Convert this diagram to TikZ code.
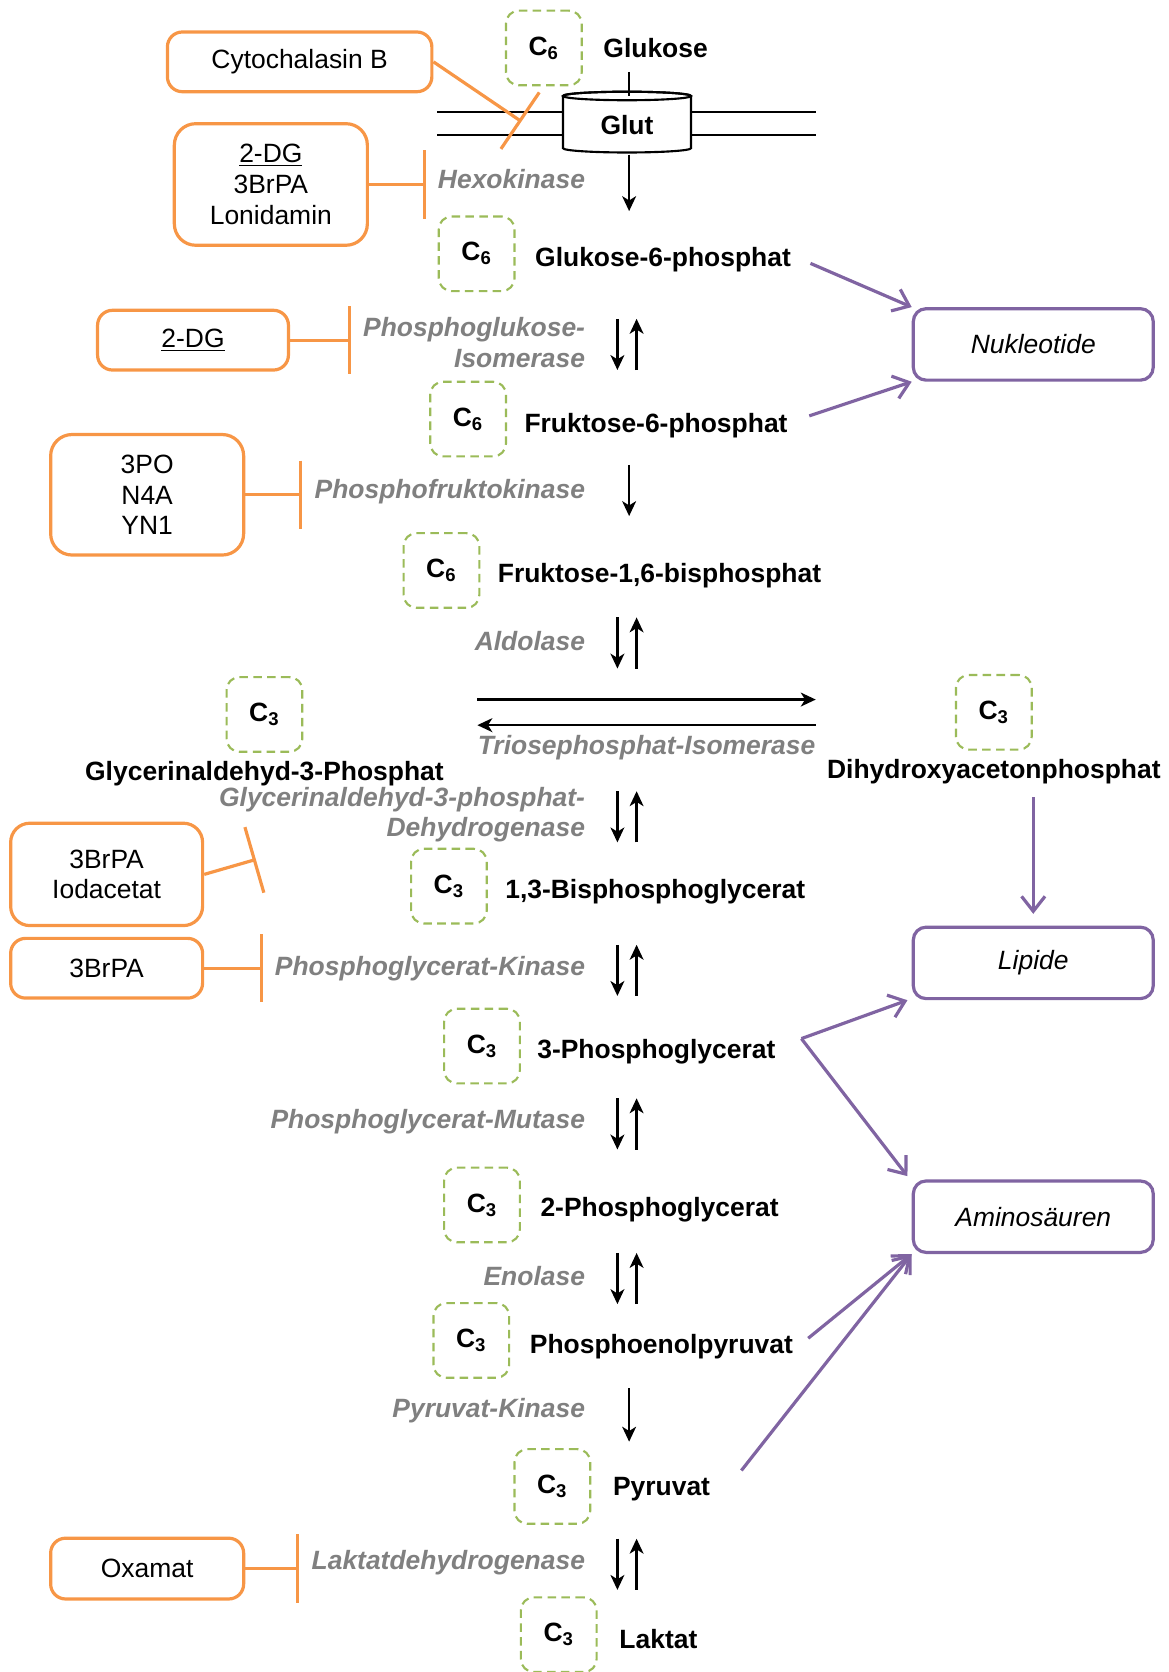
\documentclass[tikz,border=0pt]{standalone}
\usepackage{fontspec}
\setmainfont{Liberation Sans}
\usetikzlibrary{arrows.meta,positioning}
\definecolor{inhorange}{HTML}{F79646}
\definecolor{fatepurple}{HTML}{8064A2}
\definecolor{carbgreen}{HTML}{9BBB59}
\definecolor{enzgray}{HTML}{808080}

\begin{document}
\begin{tikzpicture}[x=0.5pt, y=-0.5pt,
  % text styles
  metab/.style={font=\fontsize{12.4}{14.5}\selectfont\bfseries, inner sep=0pt, text height=8.9pt, text depth=0pt},
  enzyme/.style={font=\fontsize{12.4}{14.5}\selectfont\bfseries\itshape, text=enzgray, anchor=east, align=right, inner sep=0pt},
  % boxes
  carbon/.style={draw=carbgreen, line width=1pt, dash pattern=on 4pt off 2.5pt, rounded corners=6pt, minimum width=35.5pt, minimum height=35pt, font=\fontsize{12.4}{14.5}\selectfont\bfseries},
  inhibitor/.style={draw=inhorange, line width=1.5pt, rounded corners=7pt, align=center, font=\fontsize{12.4}{14.5}\selectfont, minimum width=90.5pt, minimum height=28pt},
  fate/.style={draw=fatepurple, line width=1.5pt, rounded corners=6pt, minimum width=112.5pt, minimum height=33.5pt, font=\fontsize{12.4}{14.5}\selectfont\itshape},
  % connectors
  rxn/.style={line width=1.1pt, -{Stealth[length=7pt, width=6.5pt, inset=2pt]}},
  block/.style={draw=inhorange, line width=1.5pt, -{Bar[width=32pt]}},
  flux/.style={draw=fatepurple, line width=1.5pt, -{Straight Barb[length=7pt, width=11pt]}},
  membrane/.style={line width=1pt}
]
\useasboundingbox (0,0) rectangle (1096,1568);

% Membrane with the Glut transporter
\draw[membrane] (410,105) -- (765,105);
\draw[membrane] (410,127) -- (765,127);
\filldraw[fill=white, line width=1pt] (528,90) -- (528,139) arc[start angle=180, end angle=360, x radius=30pt, y radius=2pt] -- (648,90) arc[start angle=0, end angle=180, x radius=30pt, y radius=2pt] -- cycle;
\draw[line width=1pt] (588,90) ellipse[x radius=30pt, y radius=2pt];
\node[metab] (glut) at (588,117) {Glut};

% Carbon boxes
\node[carbon] (c1) at (510,45) {C\textsubscript{6}};
\node[carbon] (c2) at (447,238) {C\textsubscript{6}};
\node[carbon] (c3) at (439,393) {C\textsubscript{6}};
\node[carbon] (c4) at (414,535) {C\textsubscript{6}};
\node[carbon] (c5) at (248,670) {C\textsubscript{3}};
\node[carbon] (c6) at (932,668) {C\textsubscript{3}};
\node[carbon] (c7) at (421,831) {C\textsubscript{3}};
\node[carbon] (c8) at (452,981) {C\textsubscript{3}};
\node[carbon] (c9) at (452,1130) {C\textsubscript{3}};
\node[carbon] (c10) at (442,1257) {C\textsubscript{3}};
\node[carbon] (c11) at (518,1394) {C\textsubscript{3}};
\node[carbon] (c12) at (524,1533) {C\textsubscript{3}};

% Metabolites
\node[metab, right=9.5pt of c1] (glc) {Glukose};
\node[metab, right=9pt of c2, yshift=-1.5pt] (g6p) {Glukose-6-phosphat};
\node[metab, right=8pt of c3, yshift=-2pt] (f6p) {Fruktose-6-phosphat};
\node[metab, right=8pt of c4, yshift=-1pt] (f16bp) {Fruktose-1,6-bisphosphat};
\node[metab, below=4pt of c5] (g3p) {Glycerinaldehyd-3-Phosphat};
\node[metab, below=4pt of c6] (dhap) {Dihydroxyacetonphosphat};
\node[metab, right=8pt of c7, yshift=-1.5pt] (bpg) {1,3-Bisphosphoglycerat};
\node[metab, right=7.5pt of c8, yshift=-1.5pt] (pg3) {3-Phosphoglycerat};
\node[metab, right=9pt of c9, yshift=-1pt] (pg2) {2-Phosphoglycerat};
\node[metab, right=9pt of c10, yshift=-1.5pt] (pep) {Phosphoenolpyruvat};
\node[metab, right=10pt of c11] (pyr) {Pyruvat};
\node[metab, right=10pt of c12, yshift=-2pt] (lak) {Laktat};

% Enzymes
\node[enzyme] (hk) at (549,168) {Hexokinase};
\node[enzyme] (pgi) at (549,321) {Phosphoglukose-\\Isomerase};
\node[enzyme] (pfk) at (549,461) {Phosphofruktokinase};
\node[enzyme] (ald) at (549,601) {Aldolase};
\node[enzyme] (tpi) at (765,701) {Triosephosphat-Isomerase};
\node[enzyme] (gapdh) at (549,764) {Glycerinaldehyd-3-phosphat-\\Dehydrogenase};
\node[enzyme] (pgk) at (549,908) {Phosphoglycerat-Kinase};
\node[enzyme] (pgm) at (549,1052) {Phosphoglycerat-Mutase};
\node[enzyme] (eno) at (549,1197) {Enolase};
\node[enzyme] (pk) at (549,1323) {Pyruvat-Kinase};
\node[enzyme] (ldh) at (549,1465) {Laktatdehydrogenase};

% Inhibitors
\node[inhibitor, minimum width=124pt] (cyto) at (281,58) {Cytochalasin B};
\node[inhibitor, minimum height=57pt, rounded corners=10pt] (hkinh) at (254,173) {\underline{2-DG}\\3BrPA\\Lonidamin};
\node[inhibitor, minimum width=89.5pt] (pgiinh) at (181,319) {\underline{2-DG}};
\node[inhibitor, minimum height=56.5pt, rounded corners=10pt] (pfkinh) at (138,464) {3PO\\N4A\\YN1};
\node[inhibitor, minimum width=90pt, minimum height=48pt, rounded corners=9pt] (gapdhinh) at (100,820) {3BrPA\\Iodacetat};
\node[inhibitor, minimum width=90pt] (pgkinh) at (100,908) {3BrPA};
\node[inhibitor, minimum height=28.5pt] (ldhinh) at (138,1471) {Oxamat};

% Fates
\node[fate] (nuk) at (969,323) {Nukleotide};
\node[fate] (lip) at (969,903) {Lipide};
\node[fate] (amino) at (969,1141) {Aminosäuren};

% Glucose uptake
\coordinate (glutTop) at (590,90);
\coordinate (glcFoot) at ([yshift=-6.5pt]glc.south);
\draw[line width=1pt] (glcFoot -| glutTop) -- (glutTop);

% Reactions
\draw[rxn] ([shift={(20.5pt,11.5pt)}]hk.east) -- ([shift={(20.5pt,-15pt)}]hk.east);
\draw[rxn] ([shift={(20.5pt,12.5pt)}]pfk.east) -- ([shift={(20.5pt,-11.5pt)}]pfk.east);
\draw[rxn] ([shift={(20.5pt,10.5pt)}]pk.east) -- ([shift={(20.5pt,-14.5pt)}]pk.east);
\foreach \e in {pgi,ald,gapdh,pgk,pgm,eno,ldh} {
  \draw[rxn] ([shift={(15pt,11pt)}]\e.east) -- ([shift={(15pt,-13pt)}]\e.east);
  \draw[rxn] ([shift={(24pt,-13pt)}]\e.east) -- ([shift={(24pt,11pt)}]\e.east);
}
\draw[rxn] ([yshift=16.5pt]tpi.north west) -- ([yshift=16.5pt]tpi.north east);
\draw[rxn] ([yshift=4.5pt]tpi.north east) -- ([yshift=4.5pt]tpi.north west);

% Inhibition
\coordinate (cytoBar) at (489,114);
\coordinate (gapdhBar) at (240,806);
\draw[block] (cyto.east) -- (cytoBar);
\draw[block] (gapdhinh.east) -- (gapdhBar);
\foreach \i/\e in {hkinh/hk, pgiinh/pgi, pfkinh/pfk, pgkinh/pgk, ldhinh/ldh} {
  \coordinate (\e-bar) at ([xshift=-5.5pt]\e.west);
  \draw[block] (\i.east) -- (\i.east -| \e-bar);
}

% Fluxes into biosynthesis
\coordinate (pg3fork) at ([shift={(12pt,5pt)}]pg3.east);
\draw[flux] ([shift={(9pt,-3pt)}]g6p.east) -- (nuk.north west);
\draw[flux] ([shift={(10pt,3.5pt)}]f6p.east) -- (nuk.south west);
\draw[flux, shorten <=8.5pt, shorten >=5.5pt] (dhap.south -| lip.north) -- (lip.north);
\draw[flux] (pg3fork) -- ([xshift=-2pt]lip.south west);
\draw[flux] (pg3fork) -- ([shift={(-2pt,1.5pt)}]amino.north west);
\draw[flux] ([shift={(7pt,2.5pt)}]pep.east) -- (amino.south west);
\draw[flux] ([shift={(14.5pt,7.5pt)}]pyr.east) -- (amino.south west);

\end{tikzpicture}
\end{document}
